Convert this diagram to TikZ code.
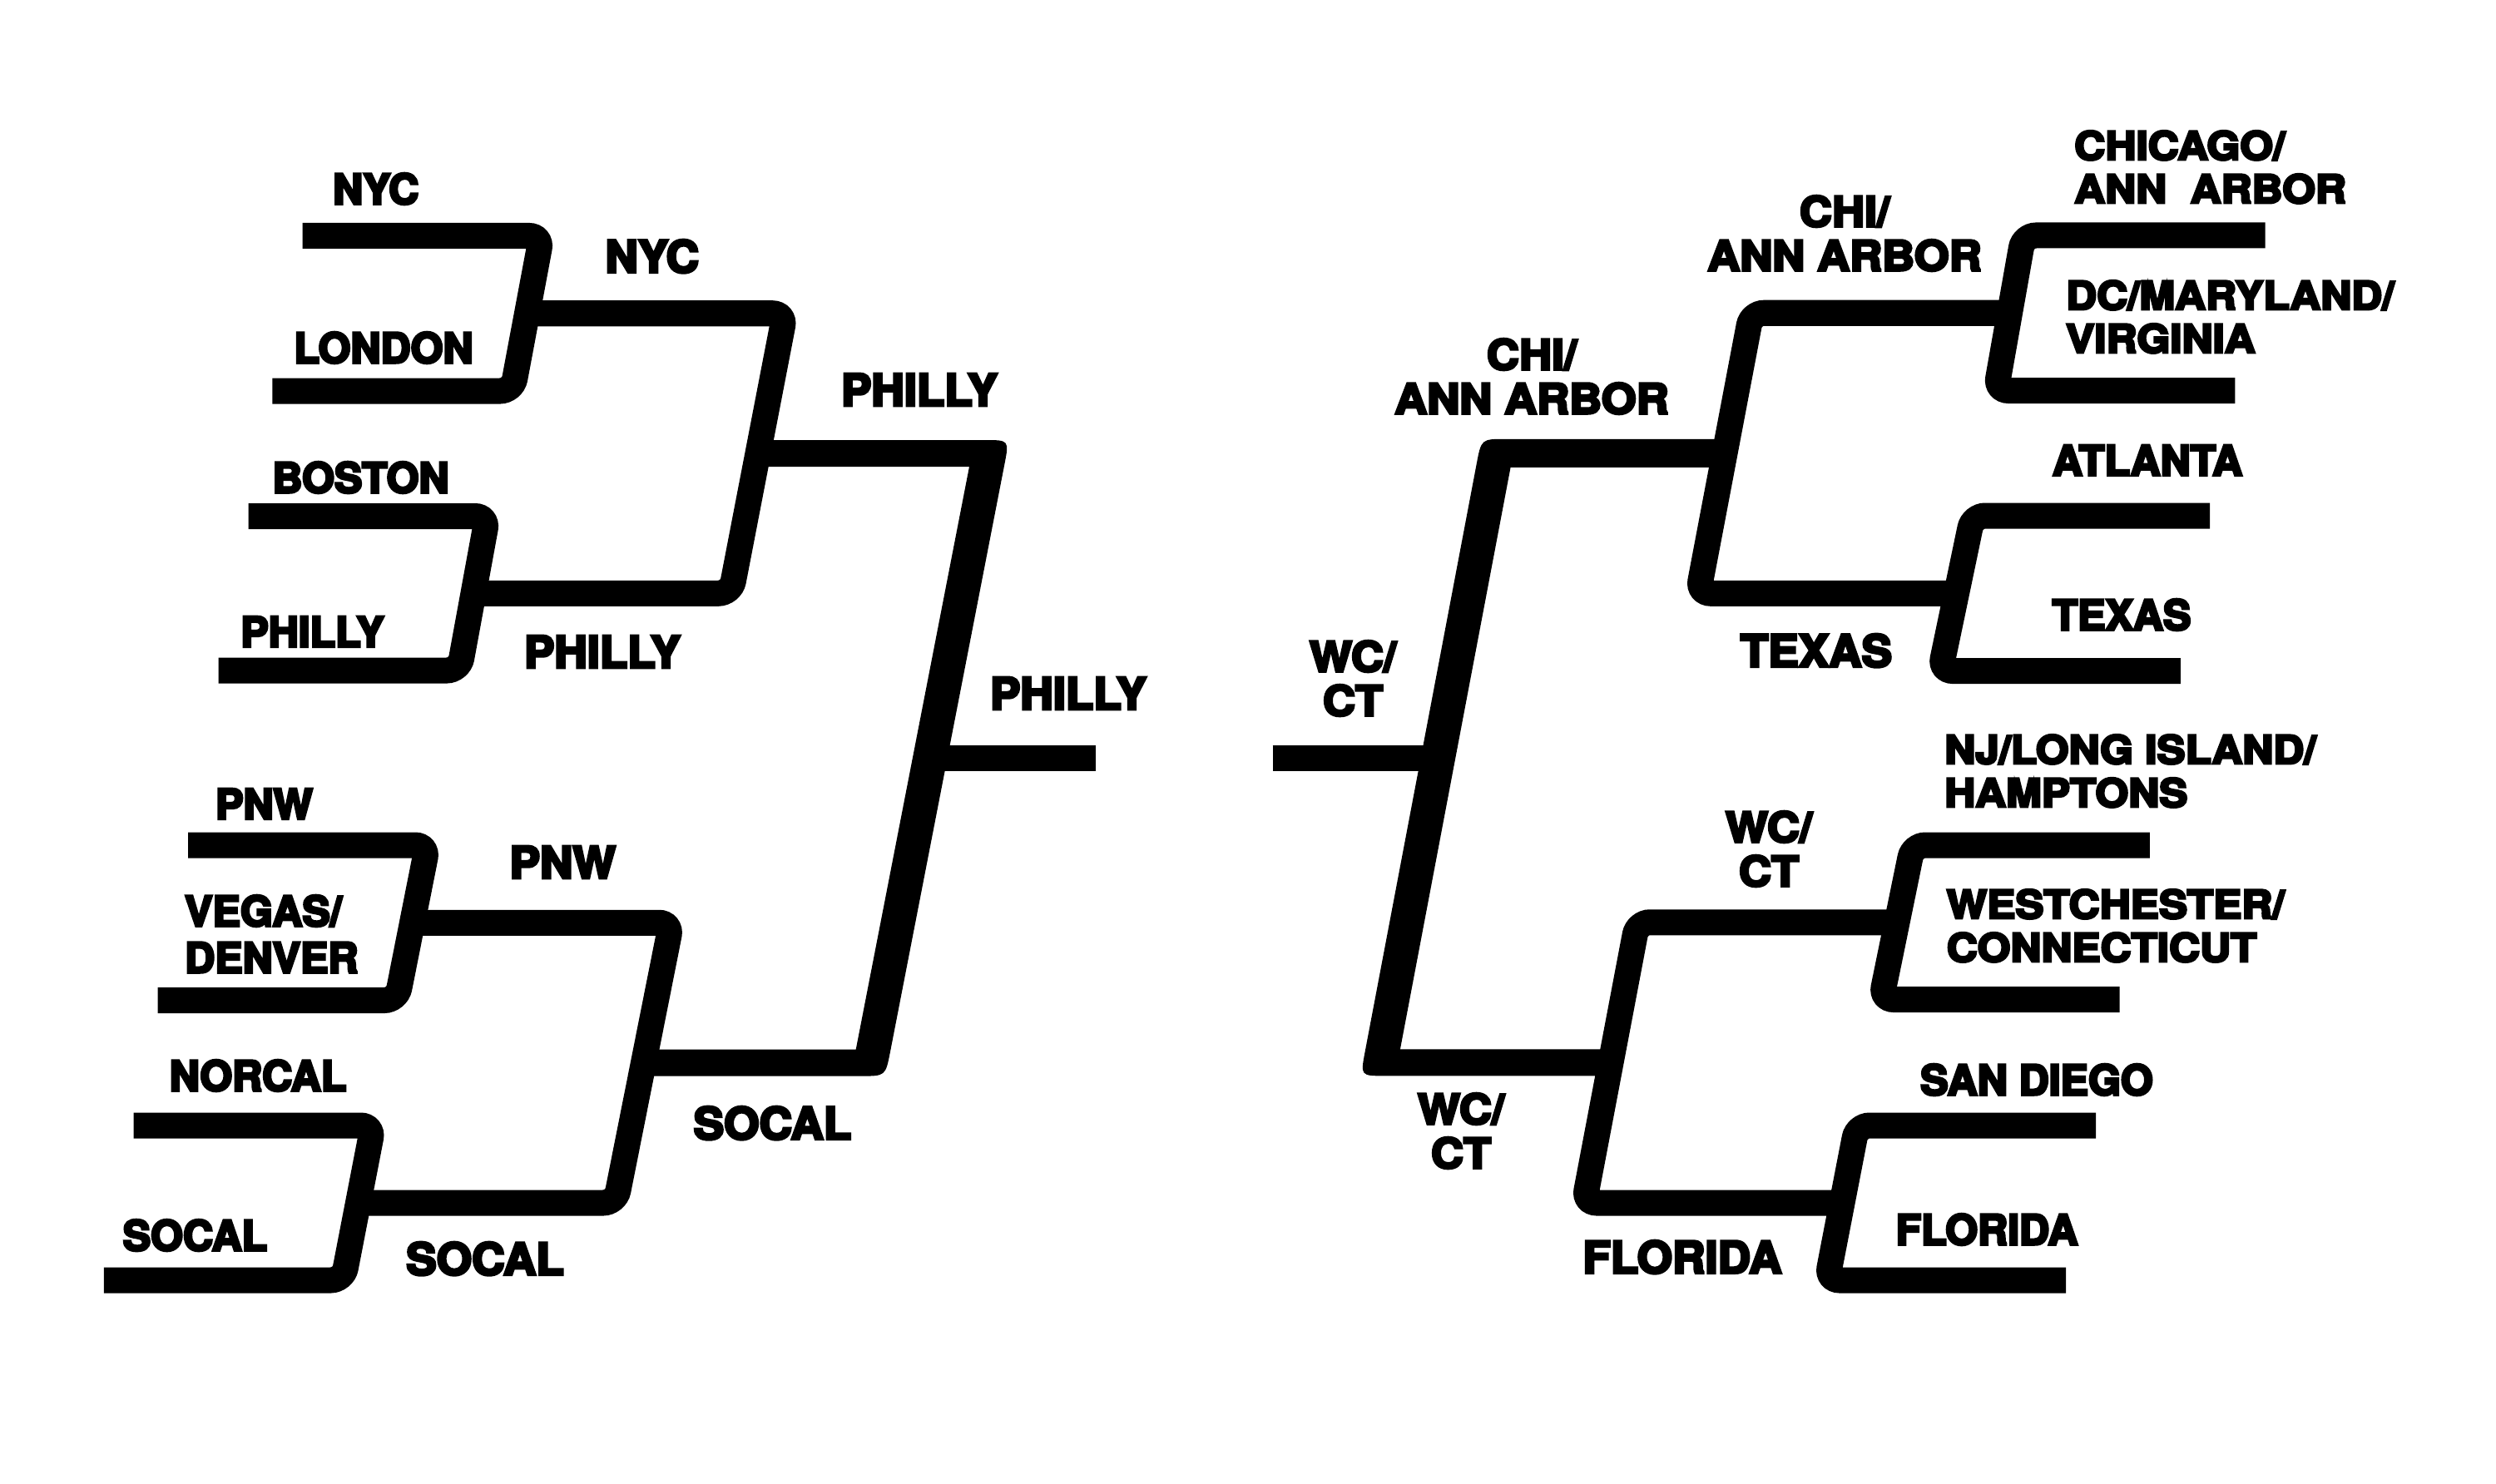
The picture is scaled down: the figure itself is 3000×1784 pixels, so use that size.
\documentclass[tikz,border=0pt]{standalone}
\usepackage{fontspec}
\setmainfont{TeX Gyre Heros}
\newfontfamily\labfontA[Extension=.otf, FakeBold=6]{texgyreheros-bold}
\newfontfamily\labfontB[Extension=.otf, FakeStretch=1.03, FakeBold=6]{texgyreheros-bold}
\newfontfamily\labfontC[Extension=.otf, FakeStretch=1.09, FakeBold=6]{texgyreheros-bold}
\newfontfamily\labfontD[Extension=.otf, FakeStretch=1.08, FakeBold=6]{texgyreheros-bold}
\usetikzlibrary{calc}
\begin{document}
\begin{tikzpicture}[x=1pt,y=-1pt,
  br/.style={line width=31pt, rounded corners=15pt, line cap=butt},
  seg/.style={line width=31pt, line cap=butt},
  lab/.style={inner sep=0pt, anchor=north, font=\labfontA\fontsize{50}{56}\selectfont},
  labv/.style={inner sep=0pt, anchor=north west, align=left, font=\labfontA\fontsize{50}{56}\selectfont},
  labm/.style={inner sep=0pt, anchor=north west, align=left, font=\labfontC\fontsize{47}{52}\selectfont},
  labi/.style={inner sep=0pt, anchor=north, font=\labfontB\fontsize{53}{53}\selectfont},
  labim/.style={inner sep=0pt, anchor=north, align=center, font=\labfontD\fontsize{50}{53}\selectfont},
]
\useasboundingbox (0,0) rectangle (3000,1784);
\fill[white] (0,0) rectangle (3000,1784);

% ---------------- LEFT HALF ----------------
\coordinate (nycL) at (363.5,283.5);
\coordinate (A1) at (651,283.5);
\coordinate (A2) at (616,470);
\coordinate (lonL) at (327.3,470);
\coordinate (Am) at ($(A1)!.5!(A2)$);

\coordinate (bosL) at (298.6,620.5);
\coordinate (B1) at (586,620.5);
\coordinate (B2) at (552,806);
\coordinate (phiL) at (262.5,806);
\coordinate (Bm) at ($(B1)!.5!(B2)$);

\coordinate (pnwL) at (226,1016);
\coordinate (D1) at (514,1016);
\coordinate (D2) at (477,1202.5);
\coordinate (vegL) at (189.6,1202.5);
\coordinate (Dm) at ($(D1)!.5!(D2)$);

\coordinate (norL) at (160.5,1353);
\coordinate (E1) at (448.5,1353);
\coordinate (E2) at (412.5,1539);
\coordinate (socL) at (124.9,1539);
\coordinate (Em) at ($(E1)!.5!(E2)$);

\coordinate (C1) at (943.5,0 |- Am);
\coordinate (C2) at (878.5,0 |- Bm);
\coordinate (Cm) at ($(C1)!.5!(C2)$);
\coordinate (F1) at (807,0 |- Dm);
\coordinate (F2) at (740,0 |- Em);
\coordinate (Fm) at ($(F1)!.5!(F2)$);

\coordinate (G1) at (1189,0 |- Cm);
\coordinate (G2) at (1046.5,0 |- Fm);
\coordinate (Gm) at ($(G1)!.5!(G2)$);
\coordinate (Lfin) at (1316.9,0 |- Gm);

% outline of the big left bracket (thick slant, rounded outer corners)
\coordinate (Gtl)  at ($(Cm)+(0,-16)$);
\coordinate (Gtli) at ($(Cm)+(0,16)$);
\coordinate (Gto)  at (1213.0,0 |- Gtl);
\coordinate (Gti)  at (1165.0,0 |- Gtli);
\coordinate (Gbl)  at ($(Fm)+(0,16)$);
\coordinate (Gbli) at ($(Fm)+(0,-16)$);
\coordinate (Gbo)  at (1064.3,0 |- Gbl);
\coordinate (Gbi)  at (1028.7,0 |- Gbli);

\draw[br] (nycL) -- (A1) -- (A2) -- (lonL);
\draw[br] (bosL) -- (B1) -- (B2) -- (phiL);
\draw[br] (pnwL) -- (D1) -- (D2) -- (vegL);
\draw[br] (norL) -- (E1) -- (E2) -- (socL);
\draw[br] (Am) -- (C1) -- (C2) -- (Bm);
\draw[br] (Dm) -- (F1) -- (F2) -- (Em);
\fill (Gtl) -- ($(Gto)!30pt!(Gtl)$) .. controls (Gto) .. ($(Gto)!30pt!(Gbo)$)
  -- ($(Gbo)!30pt!(Gto)$) .. controls (Gbo) .. ($(Gbo)!30pt!(Gbl)$)
  -- (Gbl) -- (Gbli) -- (Gbi) -- (Gti) -- (Gtli) -- cycle;
\draw[seg] (Gm) -- (Lfin);

% ---------------- RIGHT HALF ----------------
\coordinate (chiR) at (2722.5,283);
\coordinate (H1) at (2432,283);
\coordinate (H2) at (2399,469.5);
\coordinate (dcR) at (2686.4,469.5);
\coordinate (Hm) at ($(H1)!.5!(H2)$);

\coordinate (atlR) at (2656,620);
\coordinate (I1) at (2371,620);
\coordinate (I2) at (2332,806.5);
\coordinate (texR) at (2620.8,806.5);
\coordinate (Im) at ($(I1)!.5!(I2)$);

\coordinate (njR) at (2583.8,1016);
\coordinate (K1) at (2299,1016);
\coordinate (K2) at (2261,1201.5);
\coordinate (wesR) at (2547.7,1201.5);
\coordinate (Km) at ($(K1)!.5!(K2)$);

\coordinate (sdR) at (2519,1353);
\coordinate (L1) at (2232,1353);
\coordinate (L2) at (2196,1539);
\coordinate (flaR) at (2483,1539);
\coordinate (Lm) at ($(L1)!.5!(L2)$);

\coordinate (J1) at (2105,0 |- Hm);
\coordinate (J2) at (2041,0 |- Im);
\coordinate (Jm) at ($(J1)!.5!(J2)$);
\coordinate (M1) at (1968,0 |- Km);
\coordinate (M2) at (1904,0 |- Lm);
\coordinate (Mm) at ($(M1)!.5!(M2)$);

\coordinate (N1) at (1798,0 |- Jm);
\coordinate (N2) at (1659,0 |- Mm);
\coordinate (Nm) at ($(N1)!.5!(N2)$);
\coordinate (Rfin) at (1529.6,0 |- Nm);

% outline of the big right bracket
\coordinate (Ntr)  at ($(Jm)+(0,-17)$);
\coordinate (Ntri) at ($(Jm)+(0,17)$);
\coordinate (Nto)  at (1780.4,0 |- Ntr);
\coordinate (Nti)  at (1815.6,0 |- Ntri);
\coordinate (Nbr)  at ($(Mm)+(0,16)$);
\coordinate (Nbri) at ($(Mm)+(0,-16)$);
\coordinate (Nbo)  at (1635.1,0 |- Nbr);
\coordinate (Nbi)  at (1682.9,0 |- Nbri);

\draw[br] (chiR) -- (H1) -- (H2) -- (dcR);
\draw[br] (atlR) -- (I1) -- (I2) -- (texR);
\draw[br] (njR) -- (K1) -- (K2) -- (wesR);
\draw[br] (sdR) -- (L1) -- (L2) -- (flaR);
\draw[br] (Hm) -- (J1) -- (J2) -- (Im);
\draw[br] (Km) -- (M1) -- (M2) -- (Lm);
\fill (Ntr) -- ($(Nto)!30pt!(Ntr)$) .. controls (Nto) .. ($(Nto)!30pt!(Nbo)$)
  -- ($(Nbo)!30pt!(Nto)$) .. controls (Nbo) .. ($(Nbo)!30pt!(Nbr)$)
  -- (Nbr) -- (Nbri) -- (Nbi) -- (Nti) -- (Ntri) -- cycle;
\draw[seg] (Rfin) -- (Nm);

% ---------------- LABELS LEFT ----------------
\node[lab] (tNYC) at (451.7,208) {NYC};
\node[lab] (tLON) at (461,399) {LONDON};
\node[lab] (tBOS) at (433.5,555) {BOSTON};
\node[lab] (tPHI) at (375.5,741) {PHILLY};
\node[lab] (tPNW) at (317.5,948) {PNW};
\node[labv] (tVEG) at (222,1076) {VEGAS/\\DENVER};
\node[lab] (tNOR) at (310,1274) {NORCAL};
\node[lab] (tSOC) at (234.5,1466) {SOCAL};
\node[labi] (tNYC2) at (783.7,288) {NYC};
\node[labi] (tPHI2) at (724,764) {PHILLY};
\node[labi] (tPNW2) at (676.3,1017) {PNW};
\node[labi] (tSOC2) at (583,1493) {SOCAL};
\node[labi] (tPHI3) at (1105,449) {PHILLY};
\node[labi] (tSOC3) at (928.4,1330) {SOCAL};
\node[labi] (tPHI4) at (1284,814) {PHILLY};

% ---------------- LABELS RIGHT ----------------
\node[labm] (tCHI) at (2493,157) {CHICAGO/\\ANN~~ARBOR};
\node[labm] (tDC) at (2483,337) {DC/MARYLAND/\\VIRGINIA};
\node[lab] (tATL) at (2581,535) {ATLANTA};
\node[lab] (tTEX) at (2550,720) {TEXAS};
\node[labm] (tNJ) at (2337,883) {NJ/LONG ISLAND/\\HAMPTONS};
\node[labm] (tWES) at (2339.6,1069) {WESTCHESTER/\\CONNECTICUT};
\node[lab] (tSD) at (2448,1279) {SAN DIEGO};
\node[lab] (tFLA) at (2388,1459) {FLORIDA};
\node[labim] (tCHI2) at (2217,235) {CHI/\\ANN ARBOR};
\node[labi] (tTEX2) at (2183,762) {TEXAS};
\node[labim] (tWC2) at (2126,975) {WC/\\CT};
\node[labi] (tFLA2) at (2022,1491) {FLORIDA};
\node[labim] (tCHI3) at (1841,407) {CHI/\\ANN ARBOR};
\node[labim] (tWC3) at (1756,1314) {WC/\\CT};
\node[labim] (tWC4) at (1626,770) {WC/\\CT};
\end{tikzpicture}
\end{document}
